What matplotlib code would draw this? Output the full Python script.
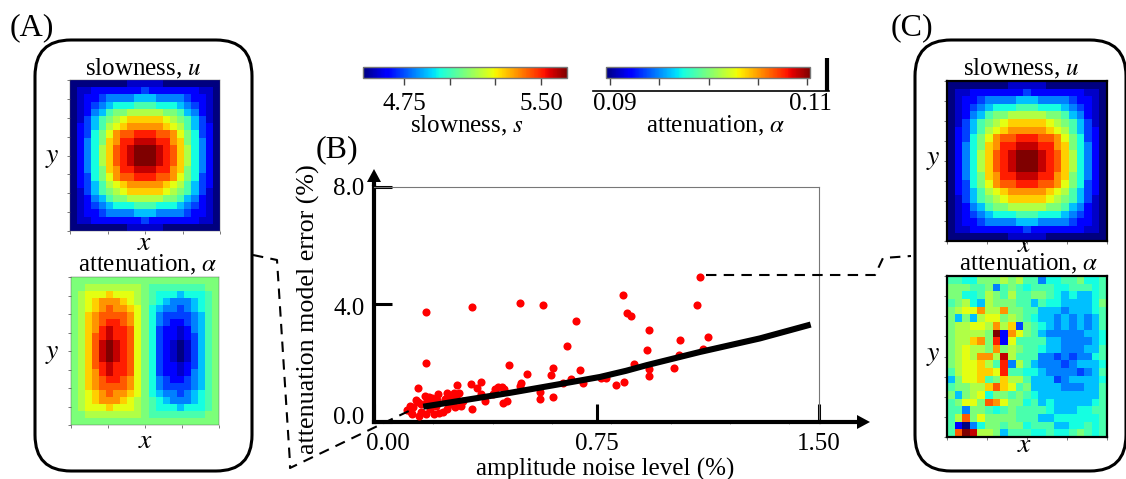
import numpy as np
import matplotlib
matplotlib.use('Agg')
import matplotlib.pyplot as plt
from matplotlib.patches import FancyBboxPatch, Polygon
from matplotlib.cm import ScalarMappable
from matplotlib.colors import Normalize
from matplotlib.transforms import ScaledTranslation

plt.rcParams['font.family'] = 'Liberation Serif'
plt.rcParams['mathtext.fontset'] = 'stix'

# Heatmap cells, one base-17 digit per cell (0 = bottom of jet, g = top)
slowness_cells = [
    "000000001111100000000",
    "011222222232222222110",
    "012234444555444432210",
    "012345666777666543210",
    "012457889999988754210",
    "0135789abbbbba9875310",
    "023579abcccccba975320",
    "02368acddeeeddca86320",
    "02468bceefffeecb86420",
    "02469bdefgggfedb96420",
    "02469bdefgggfedb96420",
    "02469bdefgggfedb96420",
    "02468bceefffeecb86420",
    "02368acddeeeddca86320",
    "023579abcccccba975320",
    "0135789abbbbba9875310",
    "012457889999988754210",
    "012345666777666543210",
    "012234444555444432210",
    "011222222232222222110",
    "000000001111100000000",
]
attenuation_true_cells = [
    "888888888888888888888",
    "889999999987777777788",
    "89aaabaaa987666566678",
    "89abcccba987654445678",
    "89abcdccba86544345678",
    "89bcddddca86433334578",
    "89bcdeedca86432234578",
    "89bcefeeda86322124578",
    "89bdefeeda86322123578",
    "89bdfgfeda86321013578",
    "89bdfgfeda86321013578",
    "89bdfgfeda86321013578",
    "89bdefeeda86322123578",
    "89bcefeeda86322124578",
    "89bcdeedca86432234578",
    "89bcddddca86433334578",
    "89abcdccba86544345678",
    "89abcccba987654445678",
    "89aaabaaa987666566678",
    "889999999987777777788",
    "888888888888888888888",
]
attenuation_rec_cells = [
    "776688898977466778667",
    "888778478767776677767",
    "886679879778876565567",
    "789659888775766555568",
    "89aac99c8877555455567",
    "85859aa89876554545457",
    "899aa9c9b387654545457",
    "899998g2ca87544444556",
    "899bc8e2a777755444456",
    "89a998c89877655444557",
    "89a9cc9f9777443434467",
    "89aab97e4975444345556",
    "79aabbae7766544443457",
    "58aab78b9975553455556",
    "78899bdba785555444557",
    "8589a6887876555555557",
    "78aa8dca8867565555567",
    "774887678777765556677",
    "79d8a8888777556666667",
    "720468878867775566767",
    "7dgf99857776676678767",
]

# scatter, amplitude noise level (%) vs attenuation model error (%)
noise = [0.175, 0.329, 0.493, 0.570, 0.681, 0.650, 0.175, 0.456, 0.604, 0.693, 0.595, 0.517,
         0.148, 0.279, 0.326, 0.360, 0.346, 0.497, 0.407, 0.419, 0.430, 0.438, 0.663, 0.703,
         0.559, 0.559, 0.603, 0.375, 0.434, 0.449, 0.329, 0.172, 0.186, 0.194, 0.215, 0.245,
         0.270, 0.288, 0.254, 0.276, 0.178, 0.198, 0.213, 0.121, 0.140, 0.147, 0.132, 0.129,
         0.157, 0.175, 0.202, 0.234, 0.247, 0.274, 0.292, 0.402, 0.492, 0.638,
         1.099, 1.089, 0.838, 0.854, 0.865, 0.928, 1.031, 1.125, 0.920, 1.109, 1.027, 0.877,
         0.928, 0.928, 1.011, 0.781, 0.765, 0.844, 0.815,
         0.160, 0.210, 0.260, 0.300, 0.240, 0.190, 0.150, 0.220, 0.360, 0.110, 0.125]
model_error = [3.75, 3.90, 4.05, 3.98, 3.42, 2.58, 1.99, 1.94, 1.84, 1.76, 1.58, 1.62,
               1.14, 1.25, 1.29, 1.37, 1.14, 1.33, 1.11, 1.20, 1.20, 1.12, 1.45, 1.31,
               1.03, 0.77, 0.84, 0.72, 0.66, 0.72, 0.44, 0.90, 0.86, 0.80, 0.95, 0.99,
               0.99, 0.99, 0.86, 0.86, 0.75, 0.69, 0.75, 0.54, 0.75, 0.69, 0.50, 0.26,
               0.35, 0.26, 0.26, 0.35, 0.45, 0.52, 0.55, 0.95, 1.22, 1.31,
               4.93, 3.97, 4.31, 3.71, 3.60, 3.12, 2.79, 2.90, 2.43, 2.47, 2.27, 1.97,
               1.79, 1.57, 1.83, 1.49, 1.49, 1.36, 1.24,
               0.62, 0.55, 0.62, 0.72, 0.78, 0.45, 0.20, 0.32, 0.95, 0.40, 0.35]

# thick trend line
trend_noise = [0.166, 0.458, 0.600, 0.762, 0.850, 0.919, 1.099, 1.301, 1.472]
trend_error = [0.52, 0.99, 1.24, 1.53, 1.74, 1.93, 2.38, 2.84, 3.31]

x_ticks = [0.0, 0.75, 1.5]
x_labels = ['0.00', '0.75', '1.50']
y_ticks = [0.0, 4.0, 8.0]
y_labels = ['0.0', '4.0', '8.0']

W, H = 1126, 479
FS = 18


def px_axes(x0, y0, x1, y1, **kw):
    # axes from pixel edges, y measured from the top
    return fig.add_axes([x0 / W, 1 - y1 / H, (x1 - x0) / W, (y1 - y0) / H], **kw)


def parse_cells(rows):
    return np.array([[int(c, 17) / 16 for c in r] for r in rows])


def heatmap(rect, rows, framed):
    ax = px_axes(*rect)
    ax.imshow(parse_cells(rows), cmap='jet', vmin=0, vmax=1, aspect='auto',
              extent=[0, 1, 0, 1], interpolation='nearest')
    ax.set_xticks(np.arange(0, 1.01, 0.25))
    ax.set_yticks(np.arange(0, 1.01, 0.125))
    ax.set_xticklabels([])
    ax.set_yticklabels([])
    ax.tick_params(length=2, width=0.5, color='#444444')
    for s in ax.spines.values():
        s.set_linewidth(1.6 if framed else 0.3)
        s.set_color('black' if framed else '#555555')
    return ax


def shift_label(label, dx, dy):
    # nudge one tick label by some pixels
    label.set_transform(label.get_transform() + ScaledTranslation(dx / 100, dy / 100, fig.dpi_scale_trans))


fig = plt.figure(figsize=(W / 100, H / 100), dpi=100, facecolor='white')

# main scatter panel
ax = px_axes(374, 186.5, 819, 422)
ax.scatter(noise, model_error, s=34, color='red', linewidths=0, zorder=3)
ax.plot(trend_noise, trend_error, color='black', lw=4.4, solid_capstyle='butt', zorder=4)
ax.set_xlim(0, 1.5)
ax.set_ylim(0, 8)
ax.set_xticks(x_ticks)
ax.set_xticklabels(x_labels, fontsize=FS)
ax.set_yticks(y_ticks)
ax.set_yticklabels(y_labels, fontsize=FS)
ax.set_xticks(np.arange(0.2, 1.5, 0.2), minor=True)
ax.set_yticks([1, 2, 3, 5, 6, 7], minor=True)
ax.tick_params(axis='x', which='major', direction='in', length=13, width=2.2, pad=8)
ax.tick_params(axis='y', which='major', direction='in', length=13, width=2.2, pad=7)
ax.tick_params(which='minor', direction='out', length=1.5, width=0.5, color='#777777')
for s in ['top', 'right']:
    ax.spines[s].set_linewidth(0.8)
    ax.spines[s].set_color('#777777')
for s in ['left', 'bottom']:
    ax.spines[s].set_linewidth(3)
shift_label(ax.xaxis.get_ticklabels()[0], 14, 0)
shift_label(ax.yaxis.get_ticklabels()[0], 0, 7)
shift_label(ax.yaxis.get_ticklabels()[1], 0, -2)
ax.set_xlabel('amplitude noise level (%)', fontsize=FS, labelpad=0)
ax.set_ylabel('attenuation model error (%)', fontsize=18.7, labelpad=0)
ax.xaxis.set_label_coords(0.519, -0.153)
ax.yaxis.set_label_coords(-0.122, 0.48)

# heatmaps
heatmap((70.3, 80.3, 220.3, 230.7), slowness_cells, False)
heatmap((71.3, 277.3, 219, 425), attenuation_true_cells, False)
heatmap((947, 81, 1107, 241), slowness_cells, True)
heatmap((947, 276, 1107, 437), attenuation_rec_cells, True)

# colourbars
cax1 = px_axes(363, 67, 567, 78)
cb1 = fig.colorbar(ScalarMappable(Normalize(4.526, 5.642), 'jet'), cax=cax1, orientation='horizontal')
cax1.set_xticks([4.75, 5.0, 5.25, 5.5])
cax1.set_xticklabels(['4.75', '', '', '5.50'], fontsize=FS)
cax1.set_xlabel('slowness, $s$', fontsize=FS)
cax1.xaxis.set_label_coords(0.51, -3.27)
cax2 = px_axes(606, 67, 810, 78)
cb2 = fig.colorbar(ScalarMappable(Normalize(0.08959, 0.1103), 'jet'), cax=cax2, orientation='horizontal')
cax2.set_xticks([0.09, 0.095, 0.10, 0.105, 0.11])
cax2.set_xticklabels(['0.09', '', '', '', '0.11'], fontsize=FS)
cax2.set_xlabel('attenuation, $\\alpha$', fontsize=FS)
cax2.xaxis.set_label_coords(0.537, -3.27)
for cb in [cb1, cb2]:
    cb.ax.tick_params(length=5, width=1, color='#444444', pad=6)
    cb.outline.set_edgecolor('#777777')
    cb.outline.set_linewidth(1)
shift_label(cax2.xaxis.get_ticklabels()[0], 5, 0)
shift_label(cax2.xaxis.get_ticklabels()[4], 3, 0)

# overlay in pixel coordinates for boxes, arrows and connectors
ov = fig.add_axes([0, 0, 1, 1], facecolor='none', zorder=5)
ov.set_xlim(0, W)
ov.set_ylim(H, 0)
ov.axis('off')

for x0, x1 in [(35, 252), (915, 1126)]:
    ov.add_patch(FancyBboxPatch((x0 + 36, 40 + 36), x1 - x0 - 72, 431 - 72,
                                boxstyle='round,pad=36,rounding_size=36',
                                fc='none', ec='black', lw=2.2, clip_on=False))

# axis extensions and arrow heads
ov.plot([374, 374], [186, 178], color='black', lw=3, solid_capstyle='butt')
ov.plot([819, 860], [422, 422], color='black', lw=3, solid_capstyle='butt')
ov.add_patch(Polygon([(374, 169), (367, 182), (381, 182)], fc='black', ec='none'))
ov.add_patch(Polygon([(870, 422), (857, 415), (857, 429)], fc='black', ec='none'))

# colourbar rule
ov.plot([593, 829], [91, 91], color='black', lw=1.2)
ov.plot([827, 827], [58, 91], color='black', lw=3, solid_capstyle='butt')

# dashed connectors
dash = dict(color='black', lw=1.5, dashes=(5, 3.5))
ov.plot([253, 277, 290, 290, 413], [255, 260, 463, 468, 409], **dash)
ov.plot([706, 875, 883, 911], [275, 275, 258, 256], **dash)

# panel letters
ov.text(10, 28, '(A)', fontsize=23, ha='left', va='center')
ov.text(316, 150, '(B)', fontsize=23, ha='left', va='center')
ov.text(891, 28, '(C)', fontsize=23, ha='left', va='center')

# panel captions
for x, y, s in [(143, 69, 'slowness, $u$'), (148, 265, 'attenuation, $\\alpha$'),
                (1021, 69, 'slowness, $u$'), (1029, 264, 'attenuation, $\\alpha$')]:
    ov.text(x, y, s, fontsize=FS, ha='center', va='center')
for x, y, s in [(145, 243, '$x$'), (146, 441, '$x$'), (1025, 245, '$x$'), (1025, 446, '$x$'),
                (52, 157, '$y$'), (52, 353, '$y$'), (933, 159, '$y$'), (933, 355, '$y$')]:
    ov.text(x, y, s, fontsize=20, ha='center', va='center')

fig.savefig('out.png', dpi=100)
